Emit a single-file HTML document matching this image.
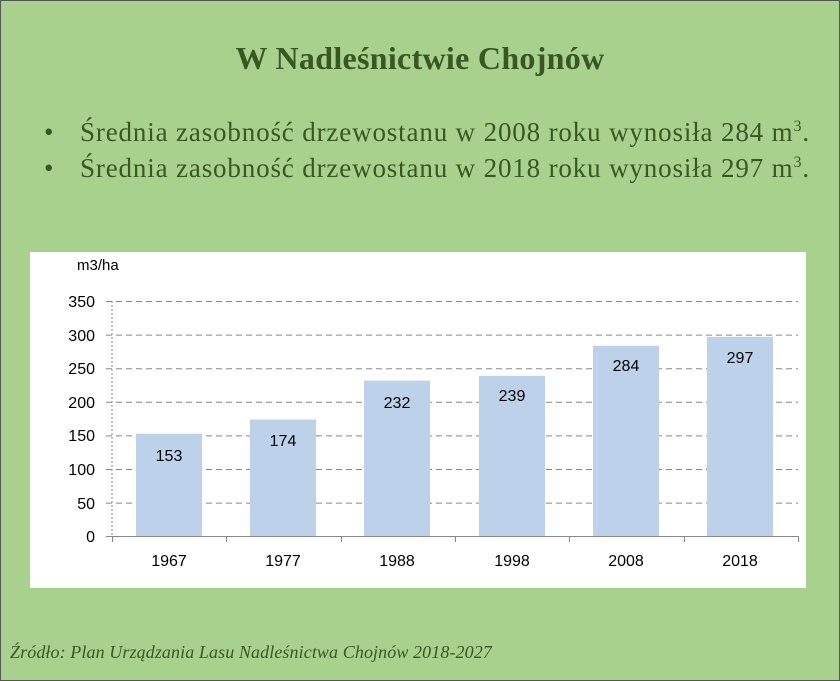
<!DOCTYPE html>
<html><head><meta charset="utf-8"><style>
html,body{margin:0;padding:0}
body{width:840px;height:681px;background:#a9d18e;position:relative;overflow:hidden;font-family:"Liberation Serif",serif;color:#385723}
.frame{position:absolute;left:0;top:0;width:838px;height:679px;border:1px solid #555}
.title{position:absolute;left:0;width:840px;top:40px;text-align:center;font-weight:bold;font-size:32px;letter-spacing:0.3px}
.b{position:absolute;left:44px;font-size:27px;white-space:nowrap;letter-spacing:0.85px}
.b span.dot{display:inline-block;width:36px}
.src{position:absolute;left:10px;top:642px;font-style:italic;font-size:18px;letter-spacing:0.1px}
</style></head><body>
<div class="frame"></div>
<div class="title">W Nadleśnictwie Chojnów</div>
<div class="b" style="top:117px"><span class="dot">•</span>Średnia zasobność drzewostanu w 2008 roku wynosiła 284 m<sup style="font-size:16px">3</sup>.</div>
<div class="b" style="top:153px"><span class="dot">•</span>Średnia zasobność drzewostanu w 2018 roku wynosiła 297 m<sup style="font-size:16px">3</sup>.</div>
<svg style="position:absolute;left:30px;top:252px" width="776" height="336" viewBox="30 252 776 336" font-family="Liberation Sans, sans-serif">
<rect x="30" y="252" width="776" height="336" fill="#fff"/>
<g stroke="#888" stroke-dasharray="6,4" stroke-width="1">
<line x1="106" x2="798" y1="301.5" y2="301.5"/>
<line x1="106" x2="798" y1="335.1" y2="335.1"/>
<line x1="106" x2="798" y1="368.7" y2="368.7"/>
<line x1="106" x2="798" y1="402.3" y2="402.3"/>
<line x1="106" x2="798" y1="435.9" y2="435.9"/>
<line x1="106" x2="798" y1="469.5" y2="469.5"/>
<line x1="106" x2="798" y1="503.1" y2="503.1"/>
<line x1="112" x2="112" y1="301" y2="536" stroke-dasharray="2,2"/>
</g>
<g fill="#bdd1ea">
<rect x="136" y="433.7" width="66" height="103"/>
<rect x="250" y="419.6" width="66" height="117"/>
<rect x="364" y="380.6" width="66" height="156"/>
<rect x="479" y="375.9" width="66" height="161"/>
<rect x="593" y="345.7" width="66" height="191"/>
<rect x="707" y="336.9" width="66" height="200"/>
</g>
<g stroke="#888"><line x1="106" x2="798" y1="536.5" y2="536.5"/>
<line x1="112.5" x2="112.5" y1="536" y2="542"/><line x1="226.5" x2="226.5" y1="536" y2="542"/><line x1="341.5" x2="341.5" y1="536" y2="542"/><line x1="455.5" x2="455.5" y1="536" y2="542"/><line x1="569.5" x2="569.5" y1="536" y2="542"/><line x1="684.5" x2="684.5" y1="536" y2="542"/><line x1="798.5" x2="798.5" y1="536" y2="542"/></g>
<g font-size="16" fill="#000" text-anchor="end">
<text x="95" y="307">350</text><text x="95" y="341">300</text><text x="95" y="374">250</text><text x="95" y="408">200</text><text x="95" y="441">150</text><text x="95" y="475">100</text><text x="95" y="509">50</text><text x="95" y="542">0</text>
</g>
<text x="77" y="270" font-size="15" fill="#000">m3/ha</text>
<g font-size="16" fill="#000" text-anchor="middle">
<text x="169" y="566">1967</text><text x="283" y="566">1977</text><text x="397" y="566">1988</text><text x="512" y="566">1998</text><text x="626" y="566">2008</text><text x="740" y="566">2018</text>
<text x="169" y="461">153</text><text x="283" y="446">174</text><text x="397" y="408">232</text><text x="512" y="401">239</text><text x="626" y="371">284</text><text x="740" y="363">297</text>
</g>
</svg>
<div class="src">Źródło: Plan Urządzania Lasu Nadleśnictwa Chojnów 2018-2027</div>
</body></html>
